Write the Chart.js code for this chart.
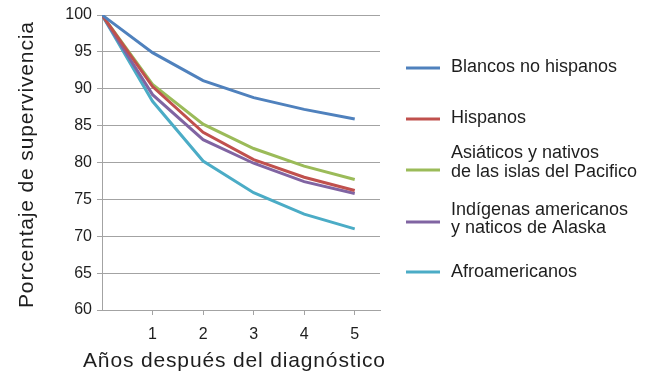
<!DOCTYPE html>
<html>
<head>
<meta charset="utf-8">
<script src="https://cdn.jsdelivr.net/npm/chart.js@4/dist/chart.umd.min.js"></script>
<style>
  html,body{margin:0;padding:0;background:#fff;}
  #wrap{position:relative;width:648px;height:371px;}
</style>
</head>
<body>
<div id="wrap"><canvas id="chart" width="648" height="371"></canvas></div>
<script>
// ---- data ----
const years = [0, 1, 2, 3, 4, 5];
const xTicks = [1, 2, 3, 4, 5];
const blancos    = [100, 94.9, 91.1, 88.8, 87.2, 85.9];
const hispanos   = [100, 90.3, 84.1, 80.4, 78.0, 76.2];
const asiaticos  = [100, 90.6, 85.2, 81.9, 79.5, 77.7];
const indigenas  = [100, 89.2, 83.1, 79.9, 77.4, 75.8];
const afro       = [100, 88.3, 80.2, 75.9, 73.0, 71.0];
const seriesNames = [
  'Blancos no hispanos',
  'Hispanos',
  ['Asiáticos y nativos', 'de las islas del Pacifico'],
  ['Indígenas americanos', 'y naticos de Alaska'],
  'Afroamericanos'
];
const xTitle = 'Años después del diagnóstico';
const yTitle = 'Porcentaje de supervivencia';
const seriesData = [blancos, hispanos, asiaticos, indigenas, afro];
const colors = ['#4F81BD', '#C0504D', '#9BBB59', '#8064A2', '#4BACC6'];

const FONT = '"Liberation Sans", Arial, sans-serif';
const GRID = '#a3a3a3';
const INK = '#1e1e1e';

// legend layout (right side)
const LEG = {x0: 406, x1: 440, tx: 451,
  lineY: [68, 119, 170, 222, 272],
  textY: [[67], [118], [153, 172], [210, 228], [272]]};

// side legend + spaced axis titles
const extras = {
  id: 'extras',
  afterDraw(c){
    const ctx = c.ctx;
    ctx.save();
    ctx.font = '18px ' + FONT;
    ctx.textBaseline = 'middle';
    ctx.textAlign = 'left';
    c.data.datasets.forEach((ds, i) => {
      ctx.strokeStyle = ds.borderColor; ctx.lineWidth = 3; ctx.lineCap = 'butt';
      ctx.beginPath(); ctx.moveTo(LEG.x0, LEG.lineY[i]); ctx.lineTo(LEG.x1, LEG.lineY[i]); ctx.stroke();
      ctx.fillStyle = INK;
      [].concat(ds.label).forEach((t, k) => ctx.fillText(t, LEG.tx, LEG.textY[i][k]));
    });
    // axis titles
    ctx.font = '21px ' + FONT;
    if ('letterSpacing' in ctx) ctx.letterSpacing = '0.85px';
    ctx.textBaseline = 'alphabetic';
    ctx.fillText(xTitle, 83, 366.5);
    ctx.translate(33, 308);
    ctx.rotate(-Math.PI / 2);
    ctx.fillText(yTitle, 0, 0);
    ctx.restore();
  }
};

new Chart(document.getElementById('chart'), {
  type: 'line',
  data: {
    datasets: seriesData.map((arr, i) => ({
      label: seriesNames[i],
      data: arr.map((v, k) => ({x: years[k], y: v})),
      borderColor: colors[i], backgroundColor: colors[i],
      borderWidth: 3, pointRadius: 0, tension: 0, fill: false
    }))
  },
  options: {
    responsive: false, animation: false,
    layout: {padding: {top: 15, right: 268, left: 0, bottom: 0}},
    plugins: {legend: {display: false}, tooltip: {enabled: false}},
    scales: {
      x: {
        type: 'linear', min: 0, max: 5.5,
        afterBuildTicks: s => { s.ticks = xTicks.map(v => ({value: v})); },
        afterFit: s => { s.height = 61; },
        grid: {drawOnChartArea: false, drawTicks: true, tickLength: 5, color: GRID},
        border: {color: GRID, width: 1},
        ticks: {color: INK, font: {family: FONT, size: 16}, padding: 10, maxRotation: 0}
      },
      y: {
        min: 60, max: 100,
        ticks: {stepSize: 5, color: INK, font: {family: FONT, size: 16}, padding: 5},
        afterFit: s => { s.width = 102; },
        grid: {color: GRID, tickLength: 5},
        border: {color: GRID, width: 1}
      }
    }
  },
  plugins: [extras]
});
</script>
</body>
</html>
